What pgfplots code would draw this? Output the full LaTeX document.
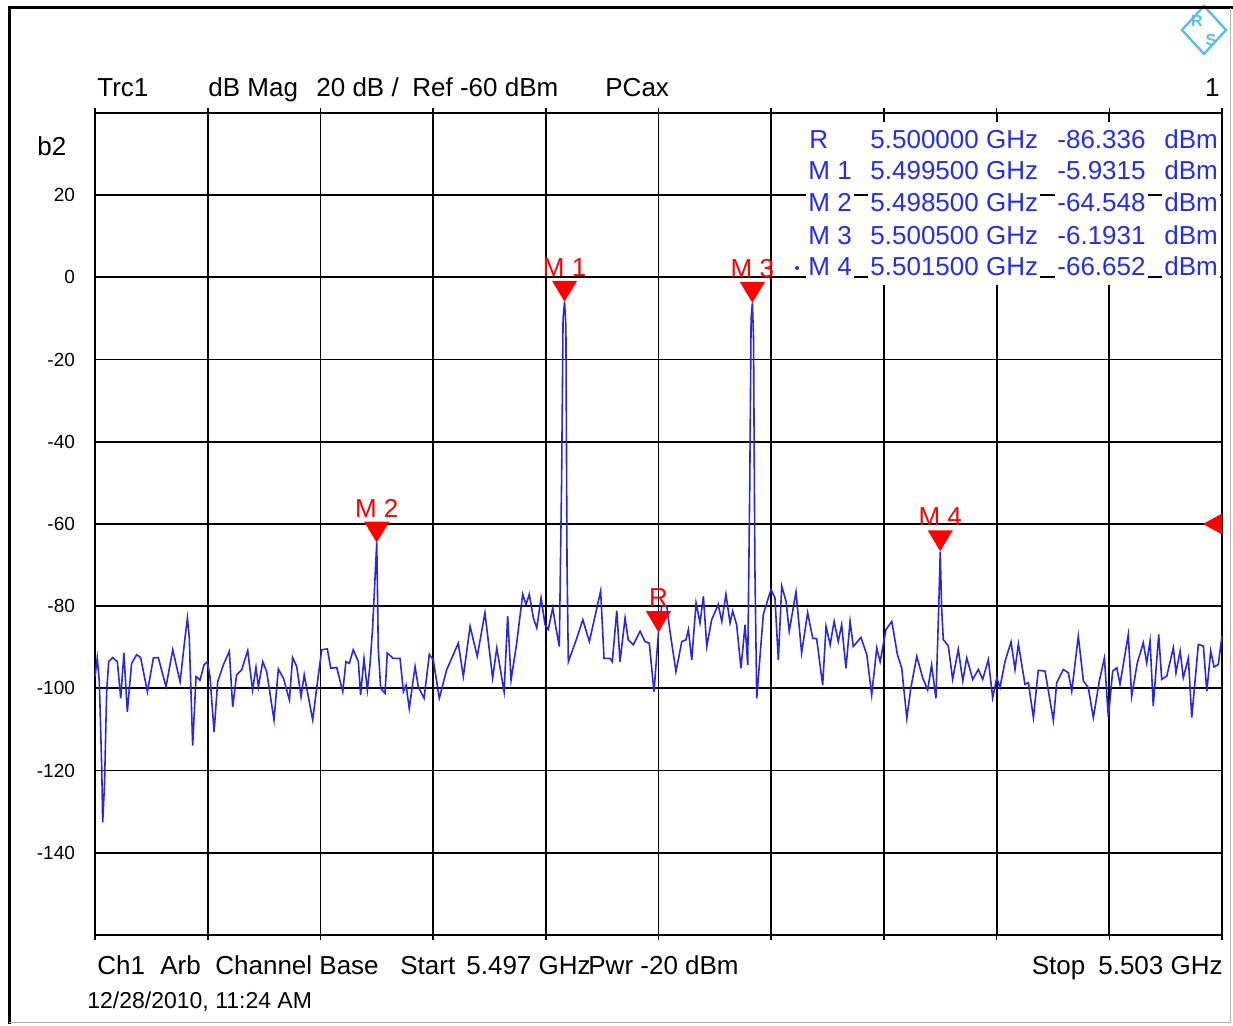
\documentclass[border=0pt]{standalone}
\usepackage{pgfplots}
\usepackage{pgfplotstable}
\pgfplotsset{compat=1.18}
\usepackage{fontspec}
\setmainfont{Liberation Sans}
\definecolor{trc}{RGB}{40,40,225}
\definecolor{tblue}{RGB}{35,45,235}
\definecolor{rslogo}{RGB}{90,190,230}
\pgfdeclareplotmark{tridown}{%
  \pgfpathmoveto{\pgfqpoint{0pt}{0pt}}%
  \pgfpathlineto{\pgfqpoint{-6.3pt}{10.5pt}}%
  \pgfpathlineto{\pgfqpoint{6.3pt}{10.5pt}}%
  \pgfpathclose\pgfusepathqfill}
\pgfdeclareplotmark{trileft}{%
  \pgfpathmoveto{\pgfqpoint{0pt}{5.2pt}}%
  \pgfpathlineto{\pgfqpoint{-9.5pt}{0pt}}%
  \pgfpathlineto{\pgfqpoint{0pt}{-5.2pt}}%
  \pgfpathclose\pgfusepathqfill}
% offset from 5.497 GHz in MHz, level in dBm
\pgfplotstableread{
f db
0.000 -97.1
0.012 -92.6
0.023 -98.4
0.036 -119.6
0.041 -132.6
0.051 -122.8
0.062 -100.8
0.073 -93.5
0.094 -92.5
0.119 -93.5
0.137 -102.4
0.154 -91.4
0.172 -105.7
0.195 -93.9
0.222 -91.8
0.243 -92.5
0.279 -100.8
0.311 -92.6
0.337 -92.5
0.378 -99.6
0.414 -90.6
0.453 -98.4
0.479 -87.8
0.492 -82.9
0.502 -87.8
0.520 -113.9
0.538 -97.1
0.559 -98.0
0.580 -94.3
0.598 -93.5
0.612 -97.1
0.634 -110.6
0.653 -98.4
0.683 -94.3
0.715 -91.0
0.733 -104.5
0.754 -96.7
0.781 -95.5
0.813 -90.8
0.839 -100.4
0.857 -94.9
0.870 -99.6
0.893 -93.5
0.914 -95.9
0.953 -107.7
0.976 -95.3
1.003 -97.5
1.035 -102.8
1.052 -92.5
1.074 -94.7
1.097 -102.0
1.114 -96.7
1.159 -107.7
1.180 -100.0
1.207 -90.6
1.237 -90.4
1.255 -95.1
1.287 -94.9
1.319 -100.8
1.336 -93.5
1.354 -93.9
1.375 -90.6
1.402 -93.5
1.414 -101.6
1.432 -92.8
1.450 -100.4
1.464 -94.3
1.478 -85.3
1.492 -72.0
1.500 -64.5
1.505 -80.0
1.508 -90.2
1.521 -100.0
1.544 -101.2
1.556 -91.4
1.588 -92.7
1.624 -92.7
1.642 -100.8
1.656 -99.2
1.673 -104.9
1.704 -94.7
1.721 -99.6
1.752 -102.4
1.780 -91.7
1.801 -93.1
1.833 -102.4
1.872 -95.5
1.934 -89.0
1.961 -97.1
1.997 -84.9
2.035 -92.2
2.076 -81.6
2.117 -97.5
2.139 -90.2
2.178 -100.8
2.197 -82.4
2.215 -98.0
2.245 -89.0
2.277 -77.1
2.295 -79.6
2.312 -77.1
2.334 -82.9
2.352 -85.3
2.375 -78.0
2.396 -84.5
2.413 -85.7
2.437 -80.4
2.454 -85.3
2.472 -89.8
2.484 -50.0
2.492 -10.0
2.500 -5.9
2.507 -12.0
2.513 -70.0
2.520 -93.5
2.565 -87.8
2.597 -83.3
2.632 -88.6
2.692 -76.3
2.710 -92.7
2.742 -92.7
2.754 -93.5
2.778 -81.1
2.795 -93.5
2.822 -82.9
2.839 -88.2
2.866 -89.4
2.902 -86.1
2.928 -88.6
2.951 -89.0
2.976 -100.8
3.000 -86.3
3.017 -80.0
3.044 -80.0
3.061 -86.1
3.093 -95.9
3.124 -88.6
3.146 -88.2
3.159 -85.7
3.177 -93.1
3.200 -79.2
3.221 -84.1
3.239 -77.6
3.257 -89.8
3.283 -83.3
3.318 -79.6
3.337 -83.7
3.359 -77.1
3.381 -84.1
3.395 -81.2
3.416 -84.5
3.439 -95.1
3.461 -84.5
3.475 -94.3
3.486 -50.0
3.493 -10.0
3.500 -6.2
3.506 -15.0
3.513 -70.0
3.523 -102.4
3.558 -82.0
3.599 -75.9
3.620 -78.0
3.638 -93.1
3.656 -75.1
3.679 -78.8
3.696 -86.1
3.732 -76.5
3.762 -91.4
3.794 -81.6
3.821 -87.8
3.842 -87.9
3.874 -99.2
3.892 -84.9
3.914 -89.4
3.935 -83.7
3.957 -88.6
3.975 -84.5
3.998 -95.1
4.020 -83.7
4.037 -89.8
4.078 -87.6
4.109 -91.8
4.135 -101.6
4.162 -90.2
4.180 -93.5
4.211 -85.7
4.242 -83.7
4.272 -91.8
4.295 -95.1
4.322 -107.3
4.343 -100.0
4.375 -92.2
4.407 -97.5
4.433 -100.4
4.454 -94.3
4.477 -102.4
4.492 -80.0
4.500 -66.7
4.507 -80.0
4.516 -88.1
4.543 -89.7
4.566 -97.8
4.596 -90.5
4.620 -98.2
4.641 -92.6
4.673 -97.8
4.703 -95.4
4.726 -97.8
4.756 -93.0
4.779 -102.3
4.801 -97.4
4.818 -99.8
4.845 -93.4
4.877 -88.7
4.898 -95.4
4.916 -89.2
4.951 -99.0
4.969 -98.6
4.996 -107.1
5.022 -95.6
5.058 -95.8
5.102 -107.8
5.120 -98.6
5.155 -95.4
5.182 -96.2
5.200 -100.7
5.235 -87.3
5.262 -98.2
5.288 -99.8
5.315 -107.1
5.347 -98.2
5.374 -92.6
5.395 -107.1
5.418 -95.8
5.440 -95.0
5.457 -99.0
5.501 -86.9
5.519 -101.9
5.549 -93.8
5.581 -88.9
5.599 -93.8
5.617 -88.5
5.634 -104.3
5.663 -86.9
5.679 -97.8
5.706 -97.0
5.741 -90.1
5.755 -96.2
5.777 -90.9
5.794 -97.4
5.821 -92.6
5.839 -107.1
5.874 -89.3
5.901 -89.7
5.919 -100.7
5.940 -90.9
5.958 -94.8
5.980 -94.2
6.000 -87.3
}\trace
\begin{document}
\begin{tikzpicture}
\useasboundingbox (0,0) rectangle (616.5pt,513pt);
\begin{axis}[
  at={(47.5pt,45.5pt)}, anchor=south west,
  scale only axis, width=563.5pt, height=411pt,
  xmin=0, xmax=6, ymin=-160, ymax=40,
  xtick={0,0.6,1.2,1.8,2.4,3,3.6,4.2,4.8,5.4,6},
  xticklabels={},
  ytick={-140,-120,-100,-80,-60,-40,-20,0,20},
  yticklabels={-140,-120,-100,-80,-60,-40,-20,0,20},
  yticklabel style={font=\fontsize{9.5}{11}\selectfont, xshift=-4pt},
  grid=major,
  major grid style={black, line width=0.9pt},
  axis line style={black, line width=0.9pt},
  tick align=outside,
  major tick length=2.5pt,
  x tick style={black, line width=0.8pt},
  y tick style={draw=none},
  clip=false,
]
\addplot[trc, line width=0.8pt, mark=none] table[x=f, y=db] {\trace};
\addplot[red, only marks, mark=tridown,
  point meta=explicit symbolic,
  nodes near coords,
  nodes near coords align={anchor=south},
  every node near coord/.style={anchor=south, inner sep=0pt, yshift=12.5pt,
     text=red, font=\fontsize{13}{15}\selectfont}]
  coordinates {(2.5,-5.9315) [M 1] (1.5,-64.548) [M 2] (3.5,-6.1931) [M 3] (4.5,-66.652) [M 4] (3.0,-86.336) [R]};
\addplot[red, only marks, mark=trileft] coordinates {(6,-60)};
\end{axis}
\begin{scope}[shift={(0pt,513pt)}, x=0.5pt, y=-0.5pt]
  % marker table
  \fill[white] (788,122) rectangle (1219,285);
  \draw[black, line width=0.9pt] (788,195) -- (1222,195);
  \draw[black, line width=0.9pt] (788,277) -- (1222,277);
  \begin{scope}[every node/.style={text=tblue, fill=white, inner sep=1pt, anchor=base west, font=\fontsize{13}{15}\selectfont}]
    \node at (807,149) {R};
    \node at (868,149) {5.500000 GHz};
    \node at (1055,149) {-86.336};
    \node at (1162,149) {dBm};
    \node at (806,180) {M 1};
    \node at (868,180) {5.499500 GHz};
    \node at (1055,180) {-5.9315};
    \node at (1162,180) {dBm};
    \node at (806,212) {M 2};
    \node at (868,212) {5.498500 GHz};
    \node at (1055,212) {-64.548};
    \node at (1162,212) {dBm};
    \node at (806,245) {M 3};
    \node at (868,245) {5.500500 GHz};
    \node at (1055,245) {-6.1931};
    \node at (1162,245) {dBm};
    \node at (806,276) {M 4};
    \node at (868,276) {5.501500 GHz};
    \node at (1055,276) {-66.652};
    \node at (1162,276) {dBm};
  \end{scope}
  \fill[tblue] (797,268) circle (2);
  % header
  \begin{scope}[every node/.style={anchor=base west, inner sep=0pt, font=\fontsize{13}{15}\selectfont}]
    \node at (97,97) {Trc1};
    \node at (208,97) {dB Mag};
    \node at (316,97) {20 dB /};
    \node at (412,97) {Ref -60 dBm};
    \node at (605,97) {PCax};
    \node[anchor=base east] at (1220,97) {1};
    \node at (37,156) {b2};
    \node at (97,975) {Ch1};
    \node at (160,975) {Arb};
    \node at (215,975) {Channel Base};
    \node at (400,975) {Start};
    \node at (466,975) {5.497 GHz};
    \node at (588,975) {Pwr};
    \node at (640,975) {-20 dBm};
    \node[anchor=base east] at (1223,975) {Stop\enspace 5.503 GHz};
    \node[font=\fontsize{11.5}{13}\selectfont] at (87,1009) {12/28/2010, 11:24 AM};
  \end{scope}
  % R&S logo
  \draw[rslogo, line width=1.2pt] (1204,6) -- (1226,30) -- (1204,54) -- (1182,30) -- cycle;
  \node[text=rslogo, font=\fontsize{8}{9}\selectfont\bfseries, inner sep=0pt] at (1197,21) {R};
  \node[text=rslogo, font=\fontsize{8}{9}\selectfont\bfseries, inner sep=0pt] at (1211,40) {S};
  % outer frame
  \draw[black, line width=1.5pt] (9,1024) -- (9,8) -- (1233,8);
  \draw[gray!60, line width=0.5pt] (9,1023) -- (1230,1023) -- (1230,8);
\end{scope}
\end{tikzpicture}
\end{document}
